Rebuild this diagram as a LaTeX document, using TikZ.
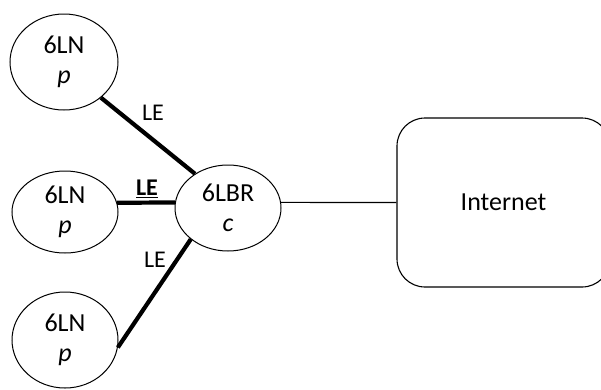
\documentclass[tikz,border=0pt]{standalone}
\usepackage{fontspec}
\setmainfont{Carlito}
\usetikzlibrary{shapes.geometric}

\begin{document}
\begin{tikzpicture}[x=1pt, y=-1pt,
  device/.style={ellipse, draw, line width=1pt, inner sep=0pt, align=center,
    font=\fontsize{26}{30}\selectfont},
  link/.style={line width=4.2pt},
  tag/.style={inner sep=0pt, font=\fontsize{24}{28}\selectfont}]
  \useasboundingbox (0,0) rectangle (601,389);

  \newcommand{\placeDevice}[6]{
    \node[device, minimum width=#4, minimum height=#5] (#1) at (#2,#3) {#6};
  }

  \placeDevice{lnTop}{64}{62}{108pt}{96pt}{6LN\\\textit{p}}
  \placeDevice{lnMid}{65}{212}{106pt}{82pt}{6LN\\\textit{p}}
  \placeDevice{lnBot}{65}{340}{106pt}{96pt}{6LN\\\textit{p}}
  \placeDevice{lbr}{228}{208}{106pt}{86pt}{6LBR\\\textit{c}}

  \node[draw, line width=1.1pt, rounded corners=28pt, minimum width=213pt,
    minimum height=169pt, font=\fontsize{26}{30}\selectfont] (inet) at (503.5,202.5) {Internet};

  \draw[link] (lnTop.-44) -- (lbr.134);
  \draw[link] (lnMid.10) -- (lbr.174);
  \draw[link] (lnBot.-8) -- (lbr.220);
  \draw[line width=1.1pt] (lbr.6) -- (inet.west);

  \node[tag] (leTop) at (153,113) {LE};
  \node[tag] (leMid) at (147,189) {\textbf{\underline{LE}}};
  \node[tag] (leBot) at (155,260) {LE};
\end{tikzpicture}
\end{document}
